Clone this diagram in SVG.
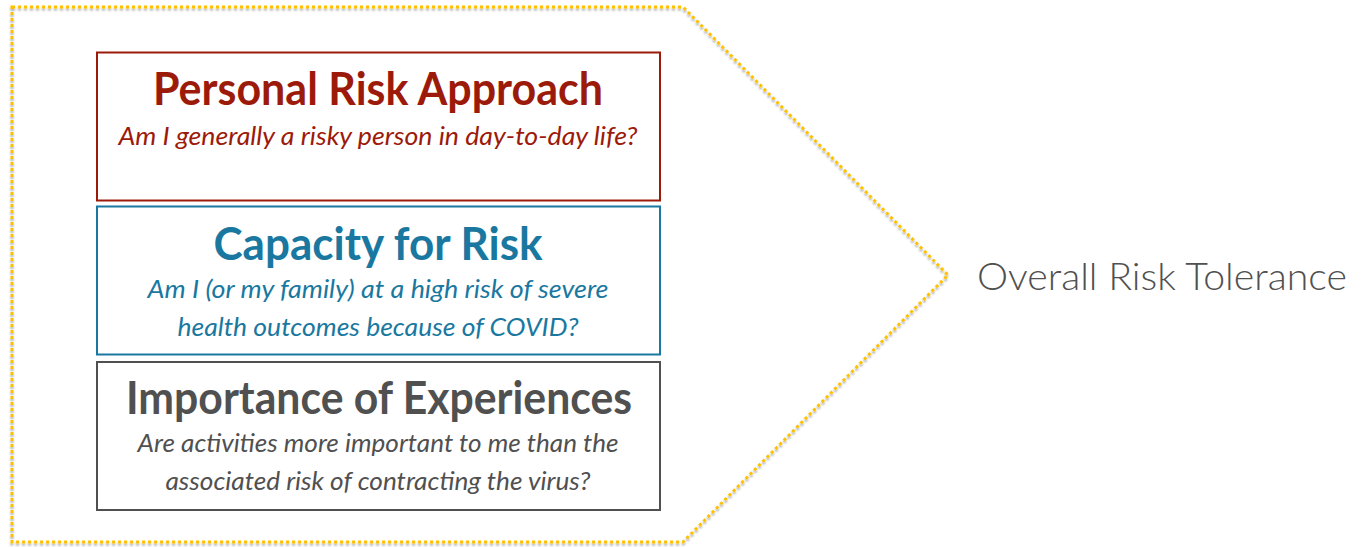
<svg xmlns="http://www.w3.org/2000/svg" width="1367" height="547" viewBox="0 0 1367 547">
  <defs>
    <filter id="soft-shadow" x="-5%" y="-5%" width="110%" height="110%">
      <feGaussianBlur in="SourceAlpha" stdDeviation="1.2" result="blur"/>
      <feOffset in="blur" dx="0" dy="1.5" result="off"/>
      <feFlood flood-color="#000" flood-opacity="0.35"/>
      <feComposite in2="off" operator="in" result="shadow"/>
      <feMerge>
        <feMergeNode in="shadow"/>
        <feMergeNode in="SourceGraphic"/>
      </feMerge>
    </filter>
    <style>
      .frame { fill: none; stroke: #FFC000; stroke-width: 3; stroke-dasharray: 3 3; }
      .box { fill: #fff; stroke-width: 2; }
      .title { font-family: Lato, "Liberation Sans", sans-serif; font-weight: 700; font-size: 46px; text-anchor: middle; }
      .sub { font-family: Lato, "Liberation Sans", sans-serif; font-style: italic; font-size: 26px; text-anchor: middle; }
      .red { fill: #9C1A0A; }
      .blue { fill: #1A78A0; }
      .gray { fill: #505050; }
      .red-s { stroke: #9C1A0A; }
      .blue-s { stroke: #1A78A0; }
      .gray-s { stroke: #505050; }
      .outcome { font-family: Lato, "Liberation Sans", sans-serif; font-weight: 300; font-size: 38px; fill: #505050; }
    </style>
  </defs>

  <!-- dotted pentagon enclosing the three factors -->
  <g id="frame" filter="url(#soft-shadow)">
    <path class="frame" d="M12,7 L683,7 L948,275 L683,542 L12,542 Z"/>
  </g>

  <g id="personal-risk">
    <rect class="box red-s" x="97" y="52.5" width="563" height="148"/>
    <text class="title red" x="378" y="105" textLength="450" lengthAdjust="spacingAndGlyphs">Personal Risk Approach</text>
    <text class="sub red" x="378" y="145" textLength="519" lengthAdjust="spacingAndGlyphs">Am I generally a risky person in day-to-day life?</text>
  </g>

  <g id="capacity">
    <rect class="box blue-s" x="97" y="206.5" width="563" height="148"/>
    <text class="title blue" x="378" y="260" textLength="329" lengthAdjust="spacingAndGlyphs">Capacity for Risk</text>
    <text class="sub blue" x="378" y="298" textLength="461" lengthAdjust="spacingAndGlyphs">Am I (or my family) at a high risk of severe</text>
    <text class="sub blue" x="378" y="336" textLength="401" lengthAdjust="spacingAndGlyphs">health outcomes because of COVID?</text>
  </g>

  <g id="experiences">
    <rect class="box gray-s" x="97" y="362" width="563" height="148"/>
    <text class="title gray" x="379" y="414" textLength="506" lengthAdjust="spacingAndGlyphs">Importance of Experiences</text>
    <text class="sub gray" x="378" y="452" textLength="481" lengthAdjust="spacingAndGlyphs">Are activities more important to me than the</text>
    <text class="sub gray" x="378" y="490" textLength="425" lengthAdjust="spacingAndGlyphs">associated risk of contracting the virus?</text>
  </g>

  <g id="outcome">
    <text class="outcome" x="977" y="290" textLength="370" lengthAdjust="spacingAndGlyphs">Overall Risk Tolerance</text>
  </g>

  <g id="connectors"></g>
</svg>
